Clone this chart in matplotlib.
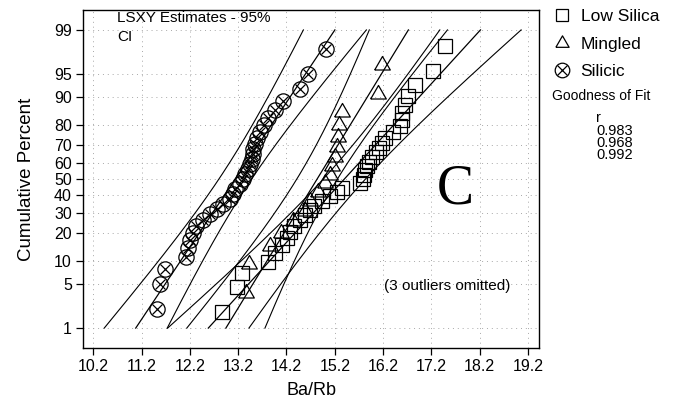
from statistics import NormalDist

import matplotlib

matplotlib.use("Agg")
import matplotlib.pyplot as plt
import numpy as np
from matplotlib.legend_handler import HandlerTuple
from matplotlib.lines import Line2D

# Ba/Rb values per group, sorted (plotting positions come from rank order)
low_silica = [
    12.86, 13.17, 13.27, 13.82, 13.96, 14.11, 14.21, 14.27, 14.36, 14.48,
    14.58, 14.69, 14.77, 14.94, 15.10, 15.25, 15.35, 15.72, 15.78, 15.80,
    15.83, 15.87, 15.91, 15.97, 16.05, 16.12, 16.18, 16.24, 16.41, 16.55,
    16.59, 16.60, 16.65, 16.72, 16.86, 17.23, 17.48,
]
mingled = [
    13.36, 13.42, 13.86, 14.09, 14.33, 14.58, 14.69, 14.85, 15.00, 15.10,
    15.14, 15.20, 15.24, 15.27, 15.29, 15.34, 16.09, 16.17,
]
silicic = [
    11.51, 11.58, 11.69, 12.12, 12.16, 12.20, 12.26, 12.33, 12.47, 12.61,
    12.76, 12.88, 13.03, 13.09, 13.14, 13.24, 13.30, 13.35, 13.41, 13.44,
    13.48, 13.50, 13.51, 13.55, 13.58, 13.65, 13.73, 13.82, 13.96, 14.13,
    14.48, 14.65, 15.02,
]
group_names = ["Low Silica", "Mingled", "Silicic"]
r_values = ["0.983", "0.968", "0.992"]

x_ticks = [10.2, 11.2, 12.2, 13.2, 14.2, 15.2, 16.2, 17.2, 18.2, 19.2]
y_ticks = [1, 5, 10, 20, 30, 40, 50, 60, 70, 80, 90, 95, 99]

W, H = 678, 401
_nd = NormalDist()

# equilateral open triangle, centred on its centroid
TRIANGLE = [(-1.0, -0.577), (1.0, -0.577), (0.0, 1.155), (-1.0, -0.577)]


def to_z(p):
    p = np.asarray(p, dtype=float)
    flat = np.clip(p.ravel() / 100.0, 1e-9, 1 - 1e-9)
    out = [_nd.inv_cdf(v) if np.isfinite(v) else np.nan for v in flat]
    return np.array(out).reshape(p.shape)


def from_z(z):
    z = np.asarray(z, dtype=float)
    out = [_nd.cdf(v) * 100.0 if np.isfinite(v) else np.nan for v in z.ravel()]
    return np.array(out).reshape(z.shape)


def fx(px):
    return px / W


def fy(py):
    return 1 - py / H


fig = plt.figure(figsize=(W / 100, H / 100), dpi=100)
plt.rcParams["font.family"] = ["Liberation Sans", "DejaVu Sans"]
ax = fig.add_axes([fx(83), fy(348), fx(539) - fx(83), fy(10) - fy(348)])
ax.set_yscale("function", functions=(to_z, from_z))

zz = np.linspace(to_z(1.0), to_z(99.0), 200)
pp = from_z(zz)

styles = {
    "Low Silica": dict(marker="s", ms=10.5),
    "Mingled": dict(marker=TRIANGLE, ms=13),
    "Silicic": dict(marker="o", ms=11),
}

for name, vals in zip(group_names, [low_silica, mingled, silicic]):
    x = np.asarray(vals)
    n = len(x)
    pct = (np.arange(1, n + 1) - 0.3) / (n + 0.4) * 100
    z = to_z(pct)
    # LSXY: regress x on the normal scores, then 95% limits on the percentiles
    b, a = np.polyfit(z, x, 1)
    half = 1.12 * 1.96 * b * np.sqrt(1.0 / n + zz ** 2 / (2.0 * n))
    ax.plot(a + b * zz, pp, color="black", lw=0.9, zorder=2)
    ax.plot(a + b * zz - half, pp, color="black", lw=0.8, zorder=2)
    ax.plot(a + b * zz + half, pp, color="black", lw=0.8, zorder=2)

    st = styles[name]
    ax.plot(x, pct, linestyle="none", marker=st["marker"], ms=st["ms"],
            mfc="none", mec="black", mew=0.9, zorder=3)
    if name == "Silicic":
        ax.plot(x, pct, linestyle="none", marker="x", ms=7.5,
                mec="black", mew=0.9, zorder=3)

ax.set_xlim(9.987, 19.428)
ax.set_ylim(0.418, 99.582)
ax.set_xticks(x_ticks)
ax.set_xticklabels([f"{t:.1f}" for t in x_ticks])
ax.set_yticks(y_ticks)
ax.set_yticklabels([str(t) for t in y_ticks])
ax.yaxis.set_minor_locator(matplotlib.ticker.NullLocator())
ax.tick_params(axis="both", direction="out", length=5, width=0.9,
               labelsize=11.5, pad=3)
ax.grid(True, color="#a8a8a8", linestyle=(0, (1, 4)), lw=0.7)
for sp in ax.spines.values():
    sp.set_linewidth(1.0)

ax.set_xlabel("Ba/Rb", fontsize=13, labelpad=6)
ax.set_ylabel("Cumulative Percent", fontsize=13.5, labelpad=14)

ax.text(fx(117), fy(11), "LSXY Estimates - 95%\nCI", transform=fig.transFigure,
        fontsize=11, va="top", ha="left", linespacing=1.45)
ax.text(fx(455), fy(190), "C", transform=fig.transFigure, fontsize=40,
        family="Liberation Serif", ha="center", va="center")
ax.text(fx(384), fy(286), "(3 outliers omitted)", transform=fig.transFigure,
        fontsize=11, ha="left", va="center")

# legend on the right of the axes
h_sq = Line2D([], [], ls="none", marker="s", ms=8, mfc="none", mec="black", mew=0.9)
h_tri = Line2D([], [], ls="none", marker=TRIANGLE, ms=11, mfc="none", mec="black", mew=0.9)
h_c = Line2D([], [], ls="none", marker="o", ms=10.5, mfc="none", mec="black", mew=0.9)
h_x = Line2D([], [], ls="none", marker="x", ms=7, mec="black", mew=0.9)
fig.legend([h_sq, h_tri, (h_c, h_x)], group_names, loc="upper left",
           bbox_to_anchor=(fx(545), fy(2)), frameon=False, fontsize=12.5,
           handlelength=1.2, handletextpad=0.45, labelspacing=0.72,
           borderaxespad=0, handler_map={tuple: HandlerTuple(ndivide=1)})

fig.text(fx(552), fy(96), "Goodness of Fit", fontsize=10, ha="left", va="center")
fig.text(fx(596), fy(118), "r", fontsize=10.5, ha="left", va="center")
fig.text(fx(596), fy(124), "\n".join(r_values), fontsize=10.5, ha="left",
         va="top", linespacing=0.8)

fig.savefig("out.png", dpi=100)
